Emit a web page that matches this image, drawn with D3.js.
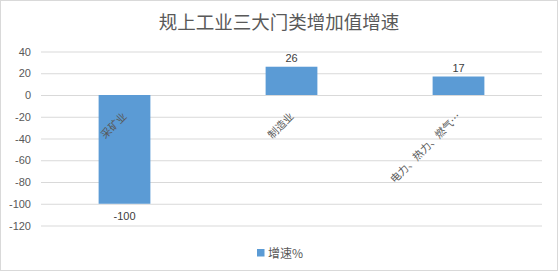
<!DOCTYPE html>
<html><head><meta charset="utf-8">
<script src="https://cdn.jsdelivr.net/npm/d3@7"></script>
<style>
html,body{margin:0;padding:0;background:#fff;}
svg text{font-family:"Noto Sans CJK SC","Liberation Sans",sans-serif;}
</style></head>
<body><svg id="c" width="558" height="271"></svg>
<script>
const title = "规上工业三大门类增加值增速";
const categories = ["采矿业", "制造业", "电力、热力、燃气…"];
const values = [-100, 26, 17];
const seriesName = "增速%";
const yTicks = [40, 20, 0, -20, -40, -60, -80, -100, -120];

const W = 558, H = 271;
const svg = d3.select("#c");
const m = {l: 41, r: 16, t: 51.5, b: 45.5};
const gray = "#595959", grid = "#D9D9D9", barColor = "#5B9BD5";

svg.append("rect").attr("x", 0.5).attr("y", 0.5).attr("width", W - 1).attr("height", H - 1)
  .attr("fill", "#fff").attr("stroke", grid);

const x = d3.scaleBand().domain(categories).range([m.l, W - m.r]).paddingInner(0.69).paddingOuter(0.345);
const y = d3.scaleLinear().domain([-120, 40]).range([H - m.b, m.t]);

// title
svg.append("text").attr("x", W / 2).attr("y", 29).attr("text-anchor", "middle")
  .attr("font-size", 18.5).attr("fill", gray).text(title);

// gridlines + y labels
const yAxis = d3.axisLeft(y).tickValues(yTicks).tickFormat(d => String(d))
  .tickSize(-(W - m.r - m.l)).tickPadding(10);
const ga = svg.append("g").attr("transform", `translate(${m.l},0)`).call(yAxis);
ga.select(".domain").remove();
ga.selectAll(".tick line").attr("stroke", grid).attr("stroke-width", 1);
ga.selectAll(".tick text").attr("fill", gray).attr("font-size", 11)
  .style("font-family", "'Liberation Sans',sans-serif");

// bars
svg.append("g").selectAll("rect").data(values).join("rect")
  .attr("x", (d, i) => x(categories[i]))
  .attr("width", x.bandwidth())
  .attr("y", d => y(Math.max(0, d)))
  .attr("height", d => Math.abs(y(d) - y(0)))
  .attr("fill", barColor);

// value labels
svg.append("g").selectAll("text").data(values).join("text")
  .attr("x", (d, i) => x(categories[i]) + x.bandwidth() / 2)
  .attr("y", d => d >= 0 ? y(d) - 5 : y(d) + 16)
  .attr("text-anchor", "middle").attr("font-size", 11).attr("fill", "#404040")
  .style("font-family", "'Liberation Sans',sans-serif")
  .text(d => String(d));

// category labels rotated
svg.append("g").selectAll("text").data(categories).join("text")
  .attr("text-anchor", "end").attr("font-size", 10.5).attr("fill", gray)
  .attr("transform", d => `translate(${x(d) + x.bandwidth() / 2 + 3},${y(0) + 22}) rotate(-45)`)
  .text(d => d);

// legend
const lg = svg.append("g");
lg.append("rect").attr("x", 257).attr("y", 249).attr("width", 7.5).attr("height", 7.5).attr("fill", barColor);
lg.append("text").attr("x", 268).attr("y", 257.5).attr("font-size", 12).attr("fill", gray).text(seriesName);
</script></body></html>
